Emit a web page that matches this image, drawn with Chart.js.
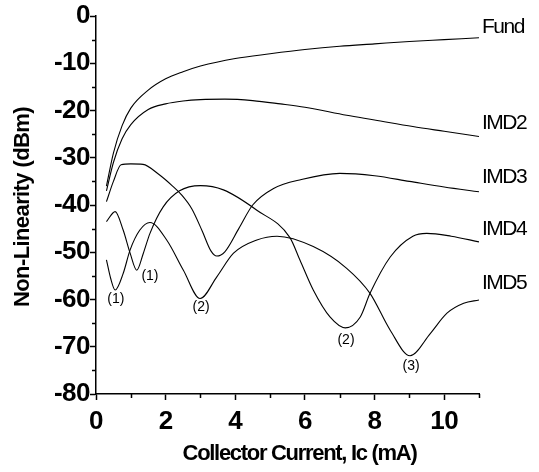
<!DOCTYPE html>
<html>
<head>
<meta charset="utf-8">
<script src="https://cdn.jsdelivr.net/npm/chart.js@4"></script>
<style>
  html, body { margin: 0; padding: 0; background: #fff; }
</style>
</head>
<body>
<canvas id="chart" width="539" height="472"></canvas>
<script>
// series: collector current (mA) vs level (dBm)
const seriesNames = ['Fund', 'IMD2', 'IMD3', 'IMD4', 'IMD5'];

const fundCurrent = [0.3, 0.5, 0.75, 1.0, 1.5, 2.0, 2.5, 3.0, 4.0, 5.0, 6.0, 7.0, 8.0, 9.0, 10.0, 11.0];
const fundLevel   = [-36, -29, -23.2, -19.5, -15.7, -13.3, -11.8, -10.6, -9.0, -8.0, -7.1, -6.4, -5.9, -5.4, -5.0, -4.6];

const imd2Current = [0.3, 0.5, 0.75, 1.0, 1.5, 2.0, 2.5, 3.0, 3.7, 4.5, 5.3, 6.0, 7.2, 8.0, 9.1, 10.0, 11.0];
const imd2Level   = [-37, -31, -26, -23, -19.8, -18.6, -18, -17.7, -17.6, -17.9, -18.6, -19.3, -21, -22, -23.4, -24.4, -25.5];

const imd3Current = [0.3, 0.5, 0.72, 1.0, 1.35, 1.8, 2.2, 2.45, 2.75, 3.05, 3.3, 3.47, 3.7, 4.1, 4.5, 5.1, 5.9, 7.0, 8.0, 9.0, 10.0, 11.0];
const imd3Level   = [-39.3, -35, -31.5, -31.3, -31.4, -33.5, -36, -37.8, -40.8, -45.5, -49.7, -50.8, -49.9, -45, -40, -36.5, -34.6, -33.3, -33.8, -35, -36.2, -37.2];

const imd4Current = [0.3, 0.55, 0.78, 0.98, 1.17, 1.36, 1.55, 1.93, 2.4, 3.0, 3.66, 4.62, 5.57, 5.86, 6.24, 6.72, 7.16, 7.59, 7.87, 8.45, 9.1, 9.5, 10.2, 11.0];
const imd4Level   = [-43.5, -41.4, -45.3, -50.2, -53.8, -50.2, -46, -40.4, -37, -35.9, -36.8, -41.1, -46.9, -51.7, -58, -63.7, -66, -63.7, -58.7, -51, -46.6, -46.0, -46.6, -47.8];

const imd5Current = [0.3, 0.42, 0.55, 0.78, 0.98, 1.26, 1.55, 2.03, 2.51, 2.99, 3.47, 3.95, 4.62, 5.2, 6.24, 7.2, 7.87, 8.45, 9.02, 9.6, 10.08, 10.56, 11.0];
const imd5Level   = [-51.6, -55.5, -58, -54.5, -49.5, -45.3, -43.7, -47.4, -53.8, -59.8, -55.2, -50.2, -47.4, -46.6, -48.8, -53.4, -58.7, -66.5, -71.9, -67.2, -62.9, -60.8, -60.1];

// where the curve names sit on the right edge (dBm)
const nameLevel = [-2.3, -22.6, -34.1, -45.1, -56.5];

// order labels at the dips
const dipText    = ['(1)', '(1)', '(2)', '(2)', '(3)'];
const dipCurrent = [0.57, 1.55, 3.02, 7.18, 9.05];
const dipLevel   = [-59.9, -55.0, -61.6, -68.6, -74.1];

const xTitle = 'Collector Current, Ic (mA)';
const yTitle = 'Non-Linearity (dBm)';

const currents = [fundCurrent, imd2Current, imd3Current, imd4Current, imd5Current];
const levels = [fundLevel, imd2Level, imd3Level, imd4Level, imd5Level];

const datasets = seriesNames.map((name, i) => ({
    label: name,
    data: currents[i].map((x, j) => ({ x: x, y: levels[i][j] })),
    borderColor: '#000',
    borderWidth: 1.1,
    pointRadius: 0,
    fill: false,
    cubicInterpolationMode: 'monotone'
}));

const decor = {
    id: 'decor',
    beforeDraw(chart) {
        chart.ctx.letterSpacing = '-0.5px';
    },
    afterDraw(chart) {
        const ctx = chart.ctx;
        const xs = chart.scales.x;
        const ys = chart.scales.y;
        const area = chart.chartArea;
        ctx.save();
        ctx.strokeStyle = '#000';
        ctx.lineWidth = 1.5;
        // minor ticks
        ctx.beginPath();
        for (let v = 1; v <= 11; v += 2) {
            const px = Math.round(xs.getPixelForValue(v)) + 0.5;
            ctx.moveTo(px, area.bottom);
            ctx.lineTo(px, area.bottom + 4);
        }
        for (let v = -75; v < 0; v += 10) {
            const py = Math.round(ys.getPixelForValue(v)) + 0.5;
            ctx.moveTo(area.left, py);
            ctx.lineTo(area.left - 4, py);
        }
        ctx.stroke();

        ctx.fillStyle = '#000';
        // curve names
        ctx.font = '21px "Liberation Sans", Arial, sans-serif';
        ctx.letterSpacing = '-1.5px';
        ctx.textAlign = 'left';
        ctx.textBaseline = 'middle';
        seriesNames.forEach((name, i) => {
            ctx.fillText(name, area.right + 3, ys.getPixelForValue(nameLevel[i]));
        });

        // dip labels
        ctx.font = '14px "Liberation Sans", Arial, sans-serif';
        ctx.letterSpacing = '0px';
        ctx.textAlign = 'center';
        dipText.forEach((t, i) => {
            ctx.fillText(t, xs.getPixelForValue(dipCurrent[i]), ys.getPixelForValue(dipLevel[i]));
        });

        // axis titles
        ctx.font = 'bold 22px "Liberation Sans", Arial, sans-serif';
        ctx.letterSpacing = '-1.3px';
        ctx.fillText(xTitle, (area.left + area.right) / 2 + 12, 454);
        ctx.save();
        ctx.translate(23, (area.top + area.bottom) / 2 + 2);
        ctx.rotate(-Math.PI / 2);
        ctx.letterSpacing = '-0.6px';
        ctx.fillText(yTitle, 0, 0);
        ctx.restore();
        ctx.restore();
        ctx.letterSpacing = '0px';
    }
};

const tickFont = { family: '"Liberation Sans", Arial, sans-serif', size: 26, weight: 'bold' };

new Chart(document.getElementById('chart').getContext('2d'), {
    type: 'line',
    data: { datasets: datasets },
    options: {
        responsive: false,
        animation: false,
        events: [],
        layout: { padding: { top: 16, right: 60, left: 0, bottom: 0 } },
        plugins: {
            legend: { display: false },
            tooltip: { enabled: false }
        },
        scales: {
            x: {
                type: 'linear',
                min: 0,
                max: 11,
                afterFit: s => { s.height = 78; },
                border: { color: '#000', width: 1.5 },
                grid: { drawOnChartArea: false, color: '#000', tickLength: 6, tickWidth: 1.5 },
                ticks: {
                    stepSize: 2,
                    includeBounds: false,
                    autoSkip: false,
                    color: '#000',
                    font: tickFont,
                    padding: 6,
                    maxRotation: 0
                }
            },
            y: {
                min: -80,
                max: 0,
                afterFit: s => { s.width = 96; },
                border: { color: '#000', width: 1.5 },
                grid: { drawOnChartArea: false, color: '#000', tickLength: 6, tickWidth: 1.5 },
                ticks: { stepSize: 10, autoSkip: false, color: '#000', font: tickFont, padding: 0 }
            }
        }
    },
    plugins: [decor]
});
</script>
</body>
</html>
